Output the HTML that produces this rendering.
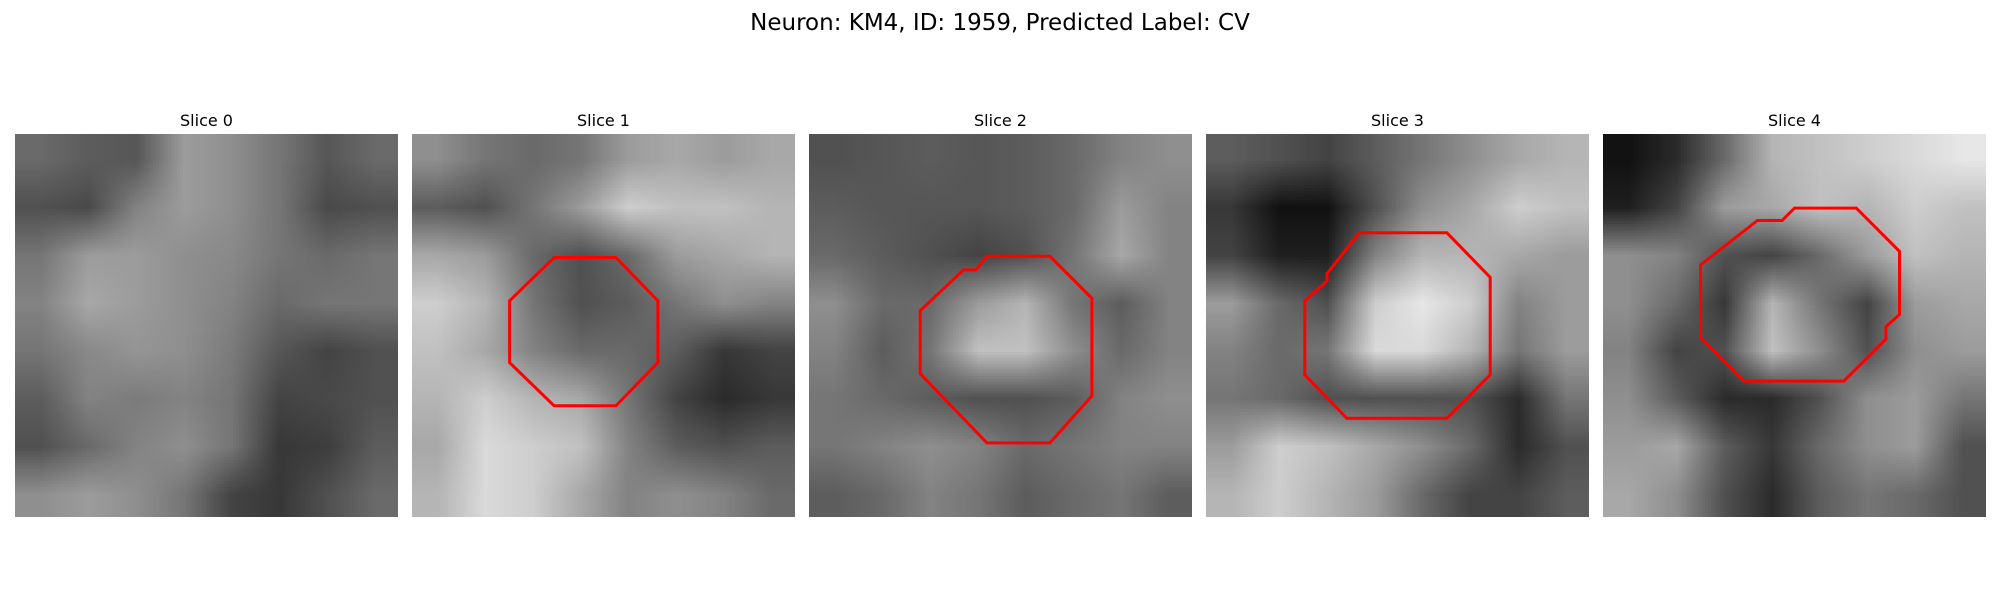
<!DOCTYPE html>
<html><head><meta charset="utf-8">
<style>
html,body{margin:0;padding:0;background:#fff;width:2000px;height:600px;overflow:hidden;font-family:"DejaVu Sans","Liberation Sans",sans-serif;}
#title{position:absolute;top:10px;left:0;width:2000px;text-align:center;font-size:23px;color:#000;}
.ptitle{position:absolute;top:111px;width:383px;text-align:center;font-size:16px;color:#000;}
canvas{position:absolute;top:134px;}
svg{position:absolute;left:0;top:0;}
</style></head>
<body>
<div id="title">Neuron: KM4, ID: 1959, Predicted Label: CV</div>
<div id="root"></div>
<svg id="ov" width="2000" height="600"></svg>
<script>
const panelTitles = ["Slice 0","Slice 1","Slice 2","Slice 3","Slice 4"];
const slice0 = [
[110,100,95,150,140,120,95,110],[90,85,130,150,140,120,85,90],[120,150,150,140,135,120,110,120],[130,160,150,140,130,110,120,120],
[120,135,145,140,125,95,80,90],[100,130,125,130,120,80,85,90],[90,110,130,140,120,70,75,100],[140,150,140,120,80,70,90,110]];
const slice1 = [
[140,120,110,120,150,160,150,160],[100,90,120,150,190,180,180,170],[160,150,110,90,110,150,160,170],[190,170,120,90,100,120,140,130],
[180,160,130,110,110,100,70,80],[170,190,170,160,120,80,60,70],[160,200,190,180,130,100,90,100],[170,200,190,160,130,140,130,110]];
const slice2 = [
[90,95,100,95,100,110,130,140],[100,95,95,95,100,110,150,130],[110,100,90,80,90,120,160,130],[140,110,110,150,170,120,100,130],
[130,100,120,180,180,140,110,130],[120,110,100,90,90,100,130,140],[120,130,140,130,110,120,130,130],[100,110,130,120,100,110,120,100]];
const slice3 = [
[100,90,80,100,120,140,160,170],[70,40,40,90,140,160,190,180],[80,50,50,130,170,170,160,150],[150,110,90,190,210,190,130,150],
[130,110,120,200,200,170,120,150],[120,110,90,90,90,90,60,120],[150,190,180,160,140,110,60,90],[170,190,170,150,110,80,80,100]];
const slice4 = [
[40,60,110,170,180,190,200,210],[50,80,150,160,180,170,190,180],[140,130,90,80,110,150,180,170],[140,110,70,170,120,80,150,160],
[130,80,90,180,140,90,140,150],[140,100,60,60,90,140,150,120],[150,160,100,70,110,140,150,90],[160,140,90,60,100,120,110,90]];
const slices = [slice0,slice1,slice2,slice3,slice4];
const roi1 = [[11.5,10],[16.5,10],[19.9,13.5],[19.9,18.5],[16.5,22],[11.5,22],[7.9,18.5],[7.9,13.5]];
const roi2 = [[14.4,9.9],[19.5,9.9],[22.9,13.3],[22.9,21.2],[19.5,25],[14.4,25],[9,19.4],[9,14.3],[12.5,11],[13.5,11]];
const roi3 = [[12.4,8],[19.5,8],[23,11.6],[23,19.5],[19.5,23],[11.4,23],[8,19.5],[8,13.5],[9.8,11.9],[9.8,11.3]];
const roi4 = [[15.5,6],[20.5,6],[24,9.5],[24,14.6],[22.9,15.6],[22.9,16.6],[19.5,20],[11.4,20],[7.9,16.5],[7.9,10.6],[12.5,7],[14.5,7]];
const rois = [null,roi1,roi2,roi3,roi4];

const panelLeft = [15,412,809,1206,1603];
const PW = 383, PT = 134, GRID = 31;
const root = document.getElementById('root');
const ov = document.getElementById('ov');
const sx = (i,v)=> panelLeft[i] + v/GRID*PW;
const sy = v => PT + v/GRID*PW;

slices.forEach((m,i)=>{
  const t = document.createElement('div');
  t.className='ptitle';
  t.style.left = panelLeft[i]+'px';
  t.textContent = panelTitles[i];
  
  
  root.appendChild(t);
  const n = m.length;
  const small = document.createElement('canvas');
  small.width = n; small.height = n;
  const sctx = small.getContext('2d');
  const img = sctx.createImageData(n,n);
  for(let r=0;r<n;r++)for(let c=0;c<n;c++){
    const k=(r*n+c)*4;
    const v=Math.max(0,Math.min(255,Math.round((m[r][c]-128)*1.25+128)));
    img.data[k]=v;img.data[k+1]=v;img.data[k+2]=v;img.data[k+3]=255;
  }
  sctx.putImageData(img,0,0);
  const cv = document.createElement('canvas');
  cv.width = PW; cv.height = PW;
  cv.style.left = panelLeft[i]+'px';
  
  
  const ctx = cv.getContext('2d');
  ctx.imageSmoothingEnabled = true;
  ctx.drawImage(small, 0, 0, PW, PW);
  root.appendChild(cv);
  const roi = rois[i];
  if(roi){
    const p = document.createElementNS('http://www.w3.org/2000/svg','polygon');
    p.setAttribute('points', roi.map(q=>sx(i,q[0]).toFixed(1)+','+sy(q[1]).toFixed(1)).join(' '));
    p.setAttribute('fill','none');
    p.setAttribute('stroke','#ff0000');
    p.setAttribute('stroke-width','3');
    
    
    ov.appendChild(p);
  }
});
</script>
</body></html>
